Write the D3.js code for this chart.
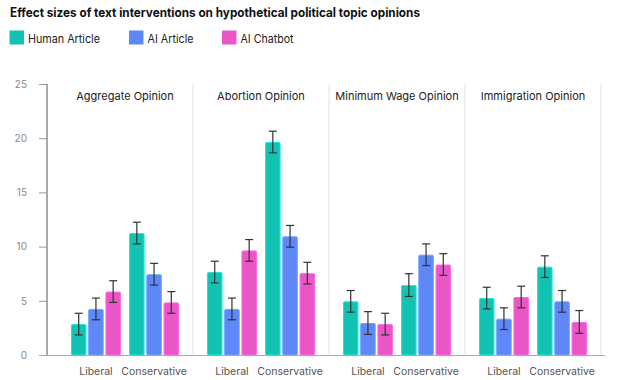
<!DOCTYPE html>
<html><head><meta charset="utf-8">
<script src="https://cdn.jsdelivr.net/npm/d3@7"></script>
<style>body{margin:0;background:#fff;}svg{display:block;font-family:Inter,"Noto Sans",sans-serif;}</style>
</head><body><svg id="c" width="619" height="380"></svg>
<script>
const title = "Effect sizes of text interventions on hypothetical political topic opinions";
const panels = ["Aggregate Opinion","Abortion Opinion","Minimum Wage Opinion","Immigration Opinion"];
const groups = ["Liberal","Conservative"];
const series = ["Human Article","AI Article","AI Chatbot"];
const colors = ["#12c3b3","#5e87f8","#e956c6"];
// values[panel][group][series]
const humanArticle = [[2.85,11.25],[7.65,19.65],[4.95,6.45],[5.25,8.15]];
const aiArticle    = [[4.25,7.45],[4.25,10.95],[2.95,9.25],[3.35,4.95]];
const aiChatbot    = [[5.85,4.85],[9.65,7.55],[2.85,8.35],[5.35,3.05]];
const errHuman   = [[1.0,1.0],[1.0,1.0],[1.0,1.05],[1.0,1.0]];
const errAiArt   = [[1.0,1.0],[1.0,1.0],[1.05,1.0],[1.0,1.0]];
const errChatbot = [[1.0,1.0],[1.0,1.0],[1.0,1.0],[1.0,1.05]];
const yTicks = [0,5,10,15,20,25];

const vals = [humanArticle, aiArticle, aiChatbot];
const errs = [errHuman, errAiArt, errChatbot];

const svg = d3.select("#c");
svg.append("text").attr("x",10).attr("y",16.5).attr("font-size",12.5).attr("font-weight",700)
  .attr("fill","#111").attr("textLength",410).attr("lengthAdjust","spacingAndGlyphs").text(title);

const legX = [9.5,129,222];
const legW = [72,46,53];
series.forEach((s,i)=>{
  svg.append("rect").attr("x",legX[i]).attr("y",30.5).attr("width",14.5).attr("height",14).attr("fill",colors[i]);
  svg.append("text").attr("x",legX[i]+18.5).attr("y",42.5).attr("font-size",11.5).attr("fill","#222")
    .attr("textLength",legW[i]).attr("lengthAdjust","spacingAndGlyphs").text(s);
});

const y = d3.scaleLinear().domain([0,25]).range([355,84]);
const px = d3.scaleBand().domain(panels).range([57,601]);
const gx = d3.scaleBand().domain(groups).range([0,px.bandwidth()]).paddingInner(0.14).paddingOuter(0.24);
const sx = d3.scaleBand().domain(series).range([0,gx.bandwidth()]).paddingInner(0.1);

// panel dividers
panels.forEach(p=>{
  svg.append("line").attr("x1",px(p)+px.bandwidth()).attr("x2",px(p)+px.bandwidth())
    .attr("y1",84).attr("y2",355).attr("stroke","#e2e2e2").attr("stroke-width",1);
});

// y axis
const ax = svg.append("g").attr("transform","translate(47,0)")
  .call(d3.axisLeft(y).tickValues(yTicks).tickSize(8).tickPadding(12));
ax.select(".domain").attr("stroke","#555").attr("d","M0,84V355");
ax.selectAll(".tick line").attr("stroke","#999");
ax.selectAll(".tick text").attr("fill","#888").attr("font-size",10).attr("font-family","Inter,'Noto Sans',sans-serif");

panels.forEach((p,pi)=>{
  const g = svg.append("g").attr("transform",`translate(${px(p)},0)`);
  g.append("text").attr("x",px.bandwidth()/2).attr("y",100).attr("text-anchor","middle")
    .attr("font-size",11).attr("fill","#222").text(p);
  groups.forEach((gr,gi)=>{
    const gg = g.append("g").attr("transform",`translate(${gx(gr)},0)`);
    series.forEach((s,si)=>{
      const v = vals[si][pi][gi], e = errs[si][pi][gi];
      const x0 = sx(s), w = sx.bandwidth();
      gg.append("rect").attr("x",x0+0.5).attr("y",y(v)+0.5).attr("width",w-1).attr("height",y(0)-y(v)-0.5)
        .attr("fill",colors[si]).attr("stroke",d3.color(colors[si]).brighter(0.5)).attr("stroke-width",1).attr("rx",1);
      const cx = x0+w/2;
      gg.append("line").attr("x1",cx).attr("x2",cx).attr("y1",y(v+e)).attr("y2",y(v-e)).attr("stroke","#333").attr("stroke-width",1.2);
      [v+e,v-e].forEach(t=>gg.append("line").attr("x1",cx-4).attr("x2",cx+4).attr("y1",y(t)).attr("y2",y(t)).attr("stroke","#333").attr("stroke-width",1.2));
    });
    gg.append("text").attr("x",gx.bandwidth()/2).attr("y",375).attr("text-anchor","middle")
      .attr("font-size",10.5).attr("fill","#555").text(gr);
  });
});

// baseline
svg.append("line").attr("x1",39).attr("x2",605).attr("y1",355.5).attr("y2",355.5).attr("stroke","#aaa").attr("stroke-width",1);
</script></body></html>
